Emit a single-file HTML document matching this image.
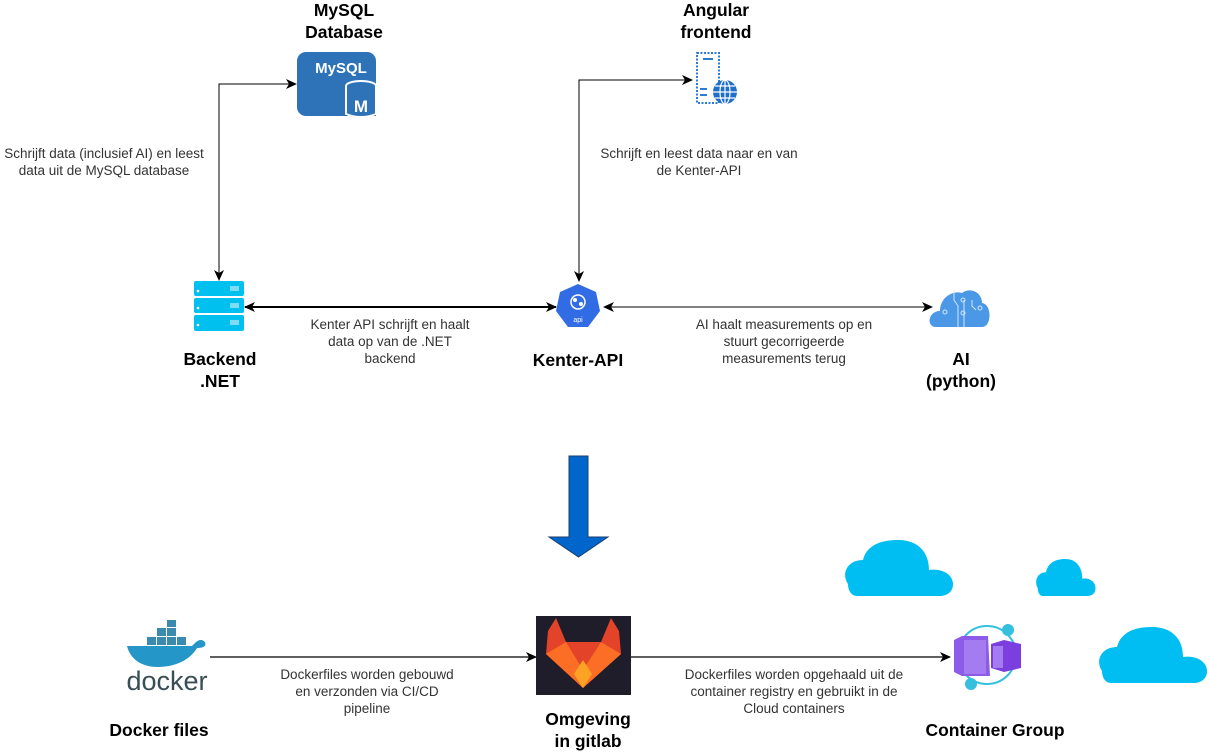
<!DOCTYPE html>
<html><head><meta charset="utf-8"><style>
html,body{margin:0;padding:0;background:#fff;width:1209px;height:753px;overflow:hidden}
svg{display:block}
text{font-family:"Liberation Sans",Arial,sans-serif}
.l{font-size:13.5px;fill:#333;text-anchor:middle}
.b{font-size:17.5px;font-weight:bold;fill:#000;text-anchor:middle}
</style></head><body>
<svg width="1209" height="753" viewBox="0 0 1209 753" xmlns="http://www.w3.org/2000/svg">
<defs>
<marker id="a" markerWidth="12" markerHeight="12" refX="10" refY="6" orient="auto-start-reverse" markerUnits="userSpaceOnUse"><path d="M0,1 L11,6 L0,11 L3,6Z" fill="#000"/></marker>
<g id="cloud"><path d="M5,44 C-2,34 4,20 20,20 C24,4 40,0 55,0 C75,0 86,12 86,30 C98,28 110,34 110,44 C110,52 104,56 96,56 L14,56 C8,56 5,50 5,44Z" fill="#00BEF2"/></g>
</defs>

<path d="M219,280 L219,84 L296,84" fill="none" stroke="#000" stroke-width="1" marker-end="url(#a)" marker-start="url(#a)"/>
<path d="M579,281 L579,80 L692,80" fill="none" stroke="#000" stroke-width="1" marker-end="url(#a)" marker-start="url(#a)"/>
<line x1="245" y1="307" x2="556" y2="307" stroke="#000" stroke-width="2" marker-start="url(#a)" marker-end="url(#a)"/>
<line x1="604" y1="307" x2="932" y2="307" stroke="#000" stroke-width="1" marker-start="url(#a)" marker-end="url(#a)"/>
<line x1="210" y1="657" x2="536" y2="657" stroke="#000" stroke-width="1.3" marker-end="url(#a)"/>
<line x1="631" y1="657" x2="950" y2="657" stroke="#000" stroke-width="1.3" marker-end="url(#a)"/>

<rect x="297" y="52" width="79" height="64" rx="9" fill="#2E73B8"/>
<text x="341" y="73" font-size="15" font-weight="bold" fill="#fff" text-anchor="middle">MySQL</text>
<rect x="345" y="84" width="31" height="32" fill="#1f5f9e"/>
<ellipse cx="361" cy="86" rx="15" ry="5" fill="#2E73B8" stroke="#fff" stroke-width="2"/>
<path d="M346,86 L346,114 Q361,120 376,114 L376,86" fill="#2E73B8" stroke="#fff" stroke-width="2"/>
<text x="361" y="112" font-size="17" font-weight="bold" fill="#fff" text-anchor="middle">M</text>

<rect x="697" y="53" width="22" height="50" fill="none" stroke="#2E7BD6" stroke-width="2" stroke-dasharray="2,1.5"/>
<line x1="703" y1="59" x2="713" y2="59" stroke="#2E7BD6" stroke-width="2"/>
<line x1="700" y1="89" x2="707" y2="89" stroke="#2E7BD6" stroke-width="2"/>
<line x1="700" y1="95" x2="707" y2="95" stroke="#2E7BD6" stroke-width="2"/>
<circle cx="725" cy="92" r="12" fill="#1F6FC8"/>
<g stroke="#fff" stroke-width="1.2" fill="none"><ellipse cx="725" cy="92" rx="5" ry="12"/><line x1="713" y1="92" x2="737" y2="92"/><line x1="715" y1="86" x2="735" y2="86"/><line x1="715" y1="98" x2="735" y2="98"/><line x1="725" y1="80" x2="725" y2="104"/></g>

<g fill="#00C0F0">
<rect x="194" y="281" width="50" height="15" rx="2"/><rect x="194" y="298" width="50" height="15" rx="2"/><rect x="194" y="315" width="50" height="16" rx="2"/>
</g>
<g fill="#fff"><circle cx="198" cy="291" r="1.3"/><circle cx="198" cy="308" r="1.3"/><circle cx="198" cy="325" r="1.3"/>
<rect x="230" y="286" width="9" height="5" fill="#7fdcf8"/><rect x="230" y="303" width="9" height="5" fill="#7fdcf8"/><rect x="230" y="320" width="9" height="5" fill="#7fdcf8"/></g>

<polygon points="578,284 596,292 600,311 588,327 568,327 556,311 560,292" fill="#326CE5"/>
<circle cx="578" cy="302" r="7" fill="none" stroke="#fff" stroke-width="1.5"/>
<circle cx="575" cy="300" r="2" fill="#fff"/><circle cx="581" cy="304" r="2" fill="#fff"/>
<text x="578" y="322" font-size="7" fill="#fff" text-anchor="middle">api</text>

<path d="M936,327 C926,327 928,311 940,311 C940,298 952,290 962,293 C970,287 982,292 982,303 C992,304 992,327 982,327Z" fill="#4A98E6"/>
<g stroke="#cfe6ff" stroke-width="1" fill="none"><path d="M954,290 V300 L958,306 V327"/><path d="M964,300 V327"/><path d="M972,300 V306 L976,310"/><circle cx="945" cy="312" r="2"/><circle cx="963" cy="313" r="2"/><circle cx="980" cy="308" r="2"/><circle cx="963" cy="300" r="2"/></g>

<text class="b" x="344" y="16">MySQL</text><text class="b" x="344" y="38">Database</text>
<text class="b" x="716" y="16">Angular</text><text class="b" x="716" y="38">frontend</text>
<text class="b" x="220" y="365">Backend</text><text class="b" x="220" y="387">.NET</text>
<text class="b" x="578" y="366">Kenter-API</text>
<text class="b" x="961" y="365">AI</text><text class="b" x="961" y="387">(python)</text>
<text class="l" x="104" y="158">Schrijft data (inclusief AI) en leest</text><text class="l" x="104" y="175">data uit de MySQL database</text>
<text class="l" x="699" y="158">Schrijft en leest data naar en van</text><text class="l" x="699" y="175">de Kenter-API</text>
<text class="l" x="390" y="329">Kenter API schrijft en haalt</text><text class="l" x="390" y="346">data op van de .NET</text><text class="l" x="390" y="363">backend</text>
<text class="l" x="784" y="329">AI haalt measurements op en</text><text class="l" x="784" y="346">stuurt gecorrigeerde</text><text class="l" x="784" y="363">measurements terug</text>

<path d="M569,456 H588 V537 H608 L578.5,557 L549,537 H569Z" fill="#0066CC" stroke="#1a3e6e" stroke-width="1"/>

<use href="#cloud" transform="translate(843,540)"/>
<use href="#cloud" transform="translate(1035,559) scale(0.55,0.66)"/>
<use href="#cloud" transform="translate(1097,627)"/>

<g fill="#3B8BB0"><rect x="147" y="637" width="9" height="8"/><rect x="157" y="637" width="9" height="8"/><rect x="167" y="637" width="9" height="8"/><rect x="157" y="628" width="9" height="8"/><rect x="167" y="628" width="9" height="8"/><rect x="167" y="620" width="9" height="7"/><rect x="177" y="637" width="9" height="8"/></g>
<path d="M127,646 H192 C196,642 199,638 204,641 C208,646 203,648 197,648 C190,660 175,667 158,667 C140,667 130,658 127,646Z" fill="#2496C8"/>
<text x="167" y="690" font-size="27" fill="#384D54" text-anchor="middle">docker</text>

<rect x="536" y="616" width="95" height="79" fill="#1F1D2A"/>
<path d="M548,631 L556,618 L566,642 H601 L611,618 L619,631 L621,654 L583,688 L546,654Z" fill="#E24329"/>
<path d="M546,654 L566,642 L583,670 L583,688Z" fill="#FC6D26"/>
<path d="M621,654 L601,642 L583,670 L583,688Z" fill="#FC6D26"/>
<path d="M574,674 L583,660 L592,674 L583,688Z" fill="#FCA326"/>

<circle cx="987" cy="655" r="29" fill="none" stroke="#35C0E0" stroke-width="2"/>
<circle cx="1008" cy="630" r="6" fill="#35C0E0"/><circle cx="971" cy="684" r="6" fill="#35C0E0"/>
<rect x="953" y="638" width="10" height="36" fill="#fff"/>
<path d="M954,640 L962,636 L988,636 L990,676 L962,676 L954,672Z" fill="#8C5CE8"/>
<rect x="964" y="640" width="22" height="34" fill="#A47CF0"/>
<path d="M991,644 L1004,640 L1021,644 L1021,668 L1004,672 L991,668Z" fill="#7B3FE0"/>
<rect x="993" y="646" width="10" height="22" fill="#A47CF0"/>

<text class="b" x="159" y="736">Docker files</text>
<text class="b" x="588" y="725">Omgeving</text><text class="b" x="588" y="747">in gitlab</text>
<text class="b" x="995" y="736">Container Group</text>
<text class="l" x="367" y="679">Dockerfiles worden gebouwd</text><text class="l" x="367" y="696">en verzonden via CI/CD</text><text class="l" x="367" y="713">pipeline</text>
<text class="l" x="794" y="679">Dockerfiles worden opgehaald uit de</text><text class="l" x="794" y="696">container registry en gebruikt in de</text><text class="l" x="794" y="713">Cloud containers</text>
</svg>
</body></html>
